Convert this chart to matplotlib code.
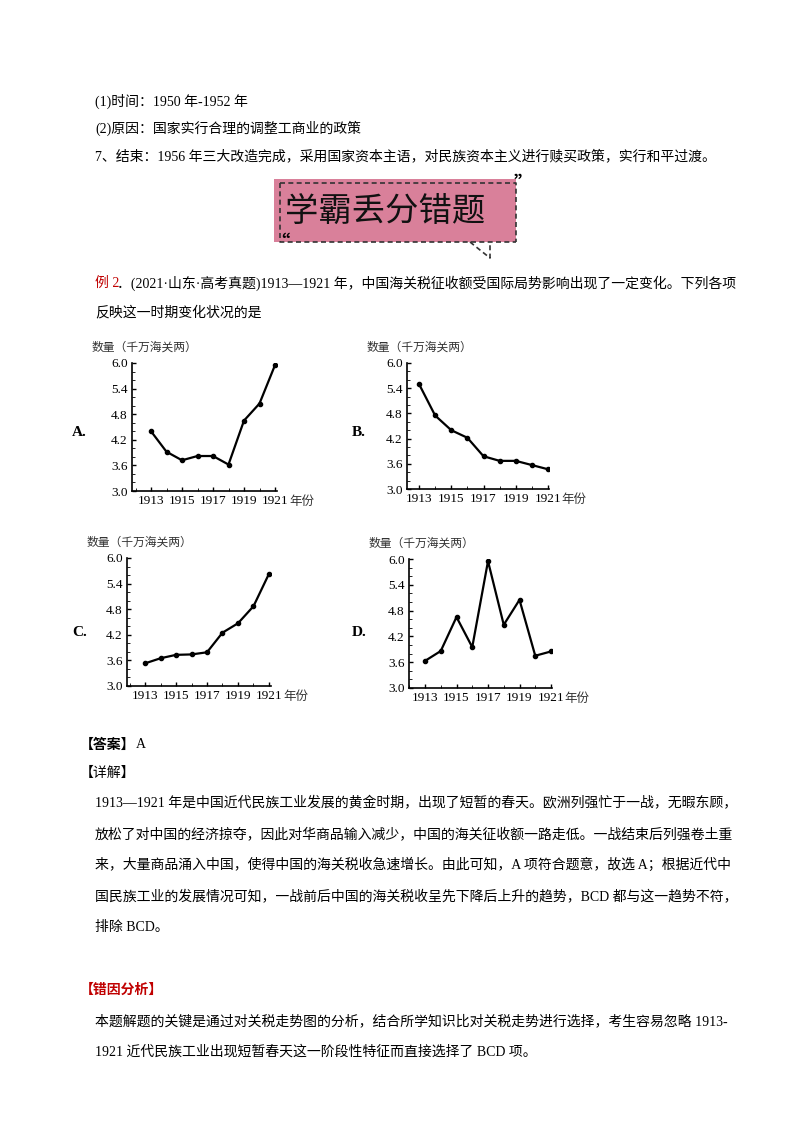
import matplotlib
matplotlib.use("Agg")
import matplotlib.pyplot as plt
from matplotlib.patches import Rectangle
from matplotlib.ticker import MultipleLocator

plt.rcParams['font.family'] = ['Liberation Serif', 'Noto Sans CJK SC', 'DejaVu Sans']

years = [1913, 1914, 1915, 1916, 1917, 1918, 1919, 1920, 1921]
vals_a = [4.40, 3.92, 3.72, 3.82, 3.82, 3.62, 4.65, 5.05, 5.95]
vals_b = [5.50, 4.75, 4.40, 4.22, 3.78, 3.67, 3.67, 3.57, 3.47]
vals_c = [3.53, 3.65, 3.73, 3.74, 3.79, 4.25, 4.47, 4.87, 5.63]
vals_d = [3.63, 3.86, 4.65, 3.95, 5.95, 4.47, 5.05, 3.75, 3.85]
tick_years = [1913, 1915, 1917, 1919, 1921]
tick_vals = [3.0, 3.6, 4.2, 4.8, 5.4, 6.0]

W, H = 800, 1132
fig = plt.figure(figsize=(8, 11.32), dpi=100)
page = fig.add_axes([0, 0, 1, 1])
page.set_xlim(0, W); page.set_ylim(H, 0); page.axis('off')

CJK = ['Liberation Serif', 'Noto Sans CJK SC']
fs = 10

def t(x, y, s, **kw):
    kw.setdefault('fontsize', fs)
    kw.setdefault('family', CJK)
    page.text(x, y, s, va='center', ha=kw.pop('ha', 'left'), **kw)

t(95, 101, "(1)时间：1950 年-1952 年")
t(95, 128, "(2)原因：国家实行合理的调整工商业的政策")
t(95, 156, "7、结束：1956 年三大改造完成，采用国家资本主语，对民族资本主义进行赎买政策，实行和平过渡。")

# banner
page.add_patch(Rectangle((274, 179), 242, 63, facecolor='#d9809a', edgecolor='none'))
page.plot([280, 516, 516], [183, 183, 242], color='#333', ls=(0, (3, 2)), lw=1.2)
page.plot([280, 280, 516], [183, 242, 242], color='#333', ls=(0, (3, 2)), lw=1.2)
page.plot([470, 490, 490], [242, 258, 242], color='#333', ls=(0, (3, 2)), lw=1.2)
page.text(514, 184, "”", fontsize=14, family=['Noto Sans CJK SC'], fontweight='bold', va='center')
page.text(270, 244, "“", fontsize=14, family=['Noto Sans CJK SC'], fontweight='bold', va='center')
page.text(385, 211, "学霸丢分错题", fontsize=24, family=['Noto Sans CJK SC'], ha='center', va='center', color='#111')

page.text(95, 283, "例 2", fontsize=fs, family=CJK, color='#c00000', va='center')
t(117, 283, "．(2021·山东·高考真题)1913—1921 年，中国海关税征收额受国际局势影响出现了一定变化。下列各项")
t(95, 313, "反映这一时期变化状况的是")

def chart(x0, x1, ytop, ybot, px1913, px1921, vals, label, lx, ly):
    ax = fig.add_axes([x0 / W, 1 - ybot / H, (x1 - x0) / W, (ybot - ytop) / H])
    per = (px1921 - px1913) / 8
    ax.set_xlim(1913 - (px1913 - x0) / per, 1921 + (x1 - px1921) / per)
    ax.set_ylim(3.0, 6.0)
    ax.plot(years, vals, color='black', lw=1.6, marker='o', ms=3)
    for s in ['top', 'right']:
        ax.spines[s].set_visible(False)
    ax.spines['left'].set_linewidth(1.2); ax.spines['bottom'].set_linewidth(1.2)
    ax.set_xticks(tick_years)
    ax.xaxis.set_minor_locator(MultipleLocator(1))
    ax.set_yticks(tick_vals)
    ax.yaxis.set_minor_locator(MultipleLocator(0.2))
    ax.set_yticklabels([f"{v:.1f}" for v in tick_vals])
    ax.tick_params(direction='in', labelsize=9.5, length=3, width=1, pad=3)
    ax.tick_params(which='minor', direction='in', length=2)
    ax.patch.set_alpha(0)
    page.text(x0 - 40, ytop - 16, "数量（千万海关两）", fontsize=8.5, family=['Noto Sans CJK SC'], va='center', color='#333')
    page.text(x1 + 12, ybot + 10, "年份", fontsize=9, family=['Noto Sans CJK SC'], va='center', color='#333')
    page.text(lx, ly, label, fontsize=11, fontweight='bold', family=['Liberation Serif'], va='center')

chart(132, 277, 363, 491, 151, 275, vals_a, "A.", 72, 432)
chart(407, 549, 363, 489, 419, 548, vals_b, "B.", 352, 432)
chart(127, 271, 558, 686, 145, 269, vals_c, "C.", 72, 632)
chart(409, 552, 559, 688, 425, 551, vals_d, "D.", 352, 632)

page.text(80, 745, "【答案】", fontsize=fs, family=['Noto Sans CJK SC'], fontweight='bold', va='center')
t(136, 745, "A")
page.text(80, 773, "【详解】", fontsize=fs, family=['Noto Sans CJK SC'], va='center')
lines = [
    "1913—1921 年是中国近代民族工业发展的黄金时期，出现了短暂的春天。欧洲列强忙于一战，无暇东顾，",
    "放松了对中国的经济掠夺，因此对华商品输入减少，中国的海关征收额一路走低。一战结束后列强卷土重",
    "来，大量商品涌入中国，使得中国的海关税收急速增长。由此可知，A 项符合题意，故选 A；根据近代中",
    "国民族工业的发展情况可知，一战前后中国的海关税收呈先下降后上升的趋势，BCD 都与这一趋势不符，",
    "排除 BCD。",
]
for i, s in enumerate(lines):
    t(95, 803 + i * 31, s)
page.text(80, 990, "【错因分析】", fontsize=fs, family=['Noto Sans CJK SC'], fontweight='bold', color='#c00000', va='center')
t(95, 1021, "本题解题的关键是通过对关税走势图的分析，结合所学知识比对关税走势进行选择，考生容易忽略 1913-")
t(95, 1052, "1921 近代民族工业出现短暂春天这一阶段性特征而直接选择了 BCD 项。")

fig.savefig("out.png", dpi=100)
